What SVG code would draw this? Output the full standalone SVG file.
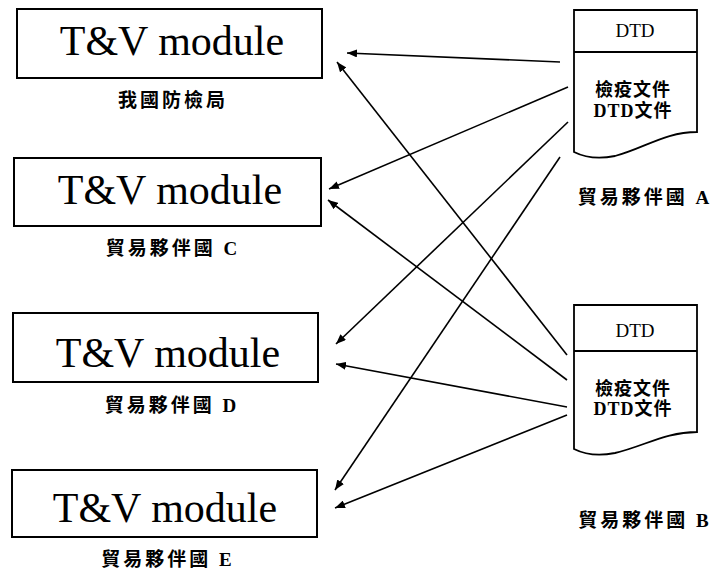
<svg xmlns="http://www.w3.org/2000/svg" width="715" height="571" viewBox="0 0 715 571">
<style>
.box{fill:#fff;stroke:#000;stroke-width:2}
.doc{fill:#fff;stroke:#000;stroke-width:1.8}
.mod{font-family:"Liberation Serif",serif;font-size:42px;text-anchor:middle;fill:#000}
.lbl{font-family:"Liberation Serif","Noto Sans CJK TC",serif;font-size:19px;font-weight:bold;text-anchor:middle;letter-spacing:3px;fill:#000}
.dtd{font-family:"Liberation Serif",serif;font-size:19px;text-anchor:middle;fill:#000}
.dt{font-family:"Liberation Serif","Noto Sans CJK TC",serif;font-size:18px;font-weight:bold;text-anchor:middle;letter-spacing:1px;fill:#000}
.con line{stroke:#000;stroke-width:1.6;marker-end:url(#ah)}
</style>
<defs>
<marker id="ah" viewBox="0 0 10 8" refX="10" refY="4" markerWidth="10" markerHeight="8" markerUnits="userSpaceOnUse" orient="auto">
<path d="M0,0 L10,4 L0,8 Z" fill="#000"/>
</marker>
</defs>
<rect width="715" height="571" fill="#fff"/>
<g id="m1">
<rect class="box" x="17" y="9" width="305" height="69"/>
<text class="mod" x="172" y="55">T&amp;V module</text>
<text class="lbl" x="173" y="107">我國防檢局</text>
</g>
<g id="m2">
<rect class="box" x="14" y="158" width="307" height="68"/>
<text class="mod" x="170" y="204">T&amp;V module</text>
<text class="lbl" x="173" y="255">貿易夥伴國 C</text>
</g>
<g id="m3">
<rect class="box" x="13" y="313" width="305" height="69"/>
<text class="mod" x="168" y="367">T&amp;V module</text>
<text class="lbl" x="172" y="412">貿易夥伴國 D</text>
</g>
<g id="m4">
<rect class="box" x="12" y="470" width="305" height="67"/>
<text class="mod" x="165" y="522">T&amp;V module</text>
<text class="lbl" x="168" y="566">貿易夥伴國 E</text>
</g>
<g id="docA">
<path class="doc" d="M574,10 H697 V132 C665,132 645,148 615,156 C595,160 582,156 574,152 Z"/>
<line x1="574" y1="52" x2="697" y2="52" stroke="#000" stroke-width="1.8"/>
<text class="dtd" x="635" y="37">DTD</text>
<text class="dt" x="633" y="96">檢疫文件</text>
<text class="dt" x="633" y="117">DTD文件</text>
<text class="lbl" x="645" y="204">貿易夥伴國 A</text>
</g>
<g id="docB">
<path class="doc" d="M574,305 H697 V432 C665,432 645,446 615,453 C595,457 582,453 574,449 Z"/>
<line x1="574" y1="351" x2="697" y2="351" stroke="#000" stroke-width="1.8"/>
<text class="dtd" x="635" y="337">DTD</text>
<text class="dt" x="633" y="395">檢疫文件</text>
<text class="dt" x="633" y="415">DTD文件</text>
<text class="lbl" x="645" y="527">貿易夥伴國 B</text>
</g>
<g id="connectors" class="con">
<line x1="560" y1="62" x2="347" y2="53"/>
<line x1="568" y1="87" x2="329" y2="189"/>
<line x1="568" y1="122" x2="336" y2="344"/>
<line x1="560" y1="157" x2="335" y2="490"/>
<line x1="567" y1="355" x2="337" y2="62"/>
<line x1="567" y1="380" x2="328" y2="200"/>
<line x1="567" y1="407" x2="336" y2="364"/>
<line x1="567" y1="415" x2="335" y2="508"/>
</g>
</svg>
